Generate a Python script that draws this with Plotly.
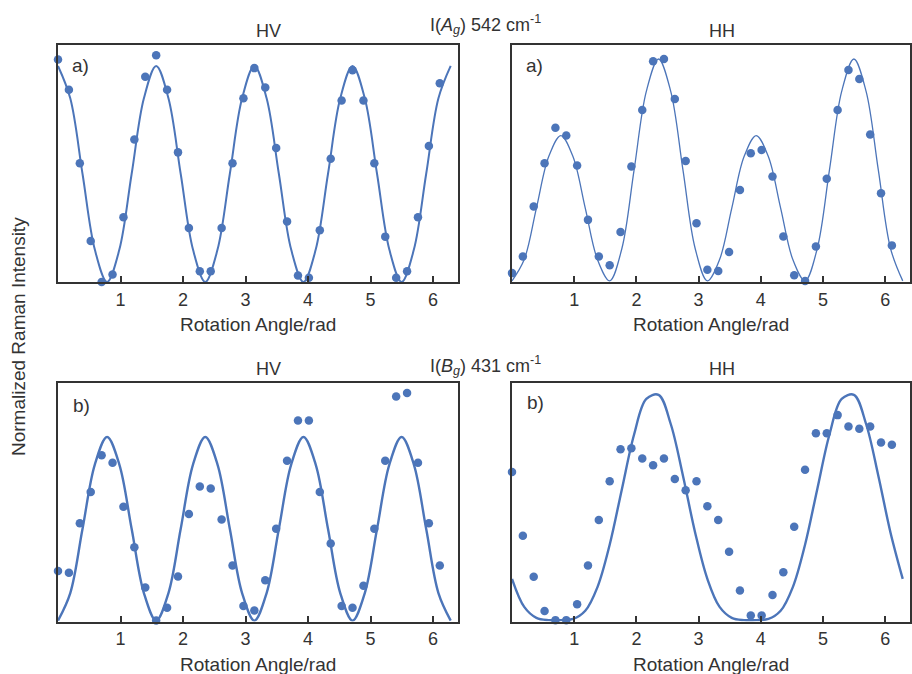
import numpy as np
import plotly.graph_objects as go

# ---------------- data ----------------
ANGLE_DEG = [0, 10, 20, 30, 40, 50, 60, 70, 80, 90, 100, 110, 120, 130, 140, 150, 160, 170,
             180, 190, 200, 210, 220, 230, 240, 250, 260, 270, 280, 290, 300, 310, 320, 330, 340, 350]

# measured points (normalized intensity)
AG_HV = [1.03, 0.89, 0.55, 0.19, 0.00, 0.035, 0.30, 0.66, 0.95, 1.05, 0.89, 0.60,
         0.25, 0.05, 0.05, 0.25, 0.55, 0.85, 0.99, 0.90, 0.62, 0.28, 0.03, 0.02,
         0.24, 0.57, 0.84, 0.98, 0.84, 0.55, 0.21, 0.02, 0.05, 0.30, 0.63, 0.92]
AG_HH = [0.035, 0.11, 0.335, 0.53, 0.69, 0.655, 0.52, 0.275, 0.11, 0.07, 0.22, 0.515,
         0.77, 0.99, 1.00, 0.82, 0.54, 0.26, 0.05, 0.045, 0.13, 0.41, 0.575, 0.59,
         0.47, 0.20, 0.025, 0.00, 0.155, 0.46, 0.77, 0.95, 0.91, 0.66, 0.395, 0.16]
BG_HV = [0.27, 0.26, 0.53, 0.70, 0.90, 0.86, 0.62, 0.40, 0.18, 0.00, 0.07, 0.24,
         0.58, 0.73, 0.72, 0.55, 0.30, 0.08, 0.055, 0.22, 0.50, 0.87, 1.09, 1.09,
         0.70, 0.42, 0.08, 0.07, 0.19, 0.50, 0.87, 1.22, 1.24, 0.86, 0.53, 0.30]
BG_HH = [0.65, 0.37, 0.19, 0.04, 0.00, 0.00, 0.07, 0.24, 0.44, 0.61, 0.75, 0.755,
         0.71, 0.68, 0.71, 0.62, 0.57, 0.61, 0.50, 0.44, 0.30, 0.13, 0.02, 0.02,
         0.11, 0.21, 0.41, 0.66, 0.82, 0.82, 0.90, 0.85, 0.84, 0.85, 0.78, 0.77]

# fitted curves, every 11.25 degrees
CURVE_DEG = [0, 11.25, 22.5, 33.75, 45, 56.25, 67.5, 78.75, 90, 101.25, 112.5, 123.75,
             135, 146.25, 157.5, 168.75, 180, 191.25, 202.5, 213.75, 225, 236.25, 247.5,
             258.75, 270, 281.25, 292.5, 303.75, 315, 326.25, 337.5, 348.75, 360]
FIT_AG_HV = [1.0, 0.85, 0.5, 0.15, 0.0, 0.15, 0.5, 0.85, 1.0, 0.85, 0.5, 0.15, 0.0, 0.15, 0.5, 0.85,
             1.0, 0.85, 0.5, 0.15, 0.0, 0.15, 0.5, 0.85, 1.0, 0.85, 0.5, 0.15, 0.0, 0.15, 0.5, 0.85, 1.0]
FIT_AG_HH = [0.0, 0.096, 0.328, 0.559, 0.655, 0.559, 0.328, 0.096, 0.0, 0.146, 0.5, 0.854, 1.0,
             0.854, 0.5, 0.146, 0.0, 0.096, 0.328, 0.559, 0.655, 0.559, 0.328, 0.096, 0.0,
             0.146, 0.5, 0.854, 1.0, 0.854, 0.5, 0.146, 0.0]
FIT_BG_HV = [0.0, 0.15, 0.5, 0.85, 1.0, 0.85, 0.5, 0.15, 0.0, 0.15, 0.5, 0.85, 1.0, 0.85, 0.5, 0.15,
             0.0, 0.15, 0.5, 0.85, 1.0, 0.85, 0.5, 0.15, 0.0, 0.15, 0.5, 0.85, 1.0, 0.85, 0.5, 0.15, 0.0]
FIT_BG_HH = [0.181, 0.058, 0.01, 0.0, 0.0, 0.005, 0.041, 0.145, 0.331, 0.575, 0.815, 0.971, 0.989,
             0.861, 0.634, 0.384, 0.181, 0.058, 0.01, 0.0, 0.0, 0.005, 0.041, 0.145, 0.331,
             0.575, 0.815, 0.971, 0.989, 0.861, 0.634, 0.384, 0.181]

TICKS = [1, 2, 3, 4, 5, 6]
TICK_LABELS = ["1", "2", "3", "4", "5", "6"]

BLUE = "#4C75B9"
DARK = "#333333"
FONT = "Liberation Sans, Arial, sans-serif"

x_pts = np.deg2rad(ANGLE_DEG)
x_fit = np.deg2rad(CURVE_DEG)

W, H = 912, 674


def px_x(v):
    return v / W


def px_y(v):
    return 1 - v / H


panels = [
    # (points, fit, line width, x domain px, y domain px, y range)
    (AG_HV, FIT_AG_HV, 2.0, (58, 458), (45, 282), [0.0, 1.097]),
    (AG_HH, FIT_AG_HH, 1.3, (512, 910), (45, 282), [-0.005, 1.063]),
    (BG_HV, FIT_BG_HV, 2.4, (58, 458), (383, 621.5), [-0.005, 1.294]),
    (BG_HH, FIT_BG_HH, 2.4, (512, 910), (383, 621.5), [-0.006, 1.041]),
]

fig = go.Figure()
layout = {}
for i, (pts, fit, lw, xd, yd, yr) in enumerate(panels, start=1):
    sx = "" if i == 1 else str(i)
    fig.add_trace(go.Scatter(x=x_fit, y=fit, mode="lines", line=dict(color=BLUE, width=lw, shape="spline"),
                             xaxis="x" + sx, yaxis="y" + sx, showlegend=False, hoverinfo="skip",
                             cliponaxis=False))
    fig.add_trace(go.Scatter(x=x_pts, y=pts, mode="markers", marker=dict(color=BLUE, size=8.5),
                             xaxis="x" + sx, yaxis="y" + sx, showlegend=False, cliponaxis=False))
    layout["xaxis" + sx] = dict(
        domain=[px_x(xd[0]), px_x(xd[1])], range=[0, 6.4], anchor="y" + sx,
        showline=True, mirror=True, linecolor=DARK, linewidth=2,
        ticks="inside", ticklen=6, tickwidth=1.5, tickcolor=DARK,
        tickvals=TICKS, ticktext=TICK_LABELS, showgrid=False, zeroline=False,
        tickfont=dict(family=FONT, size=18, color=DARK), ticklabelstandoff=0,
    )
    layout["yaxis" + sx] = dict(
        domain=[px_y(yd[1]), px_y(yd[0])], range=yr, anchor="x" + sx,
        showline=True, mirror=True, linecolor=DARK, linewidth=2,
        showticklabels=False, ticks="", showgrid=False, zeroline=False,
    )

ann = []


def add_text(text, x, y, size, **kw):
    ann.append(dict(text=text, x=px_x(x), y=px_y(y), xref="paper", yref="paper",
                    showarrow=False, font=dict(family=FONT, size=size, color=DARK),
                    xanchor="center", yanchor="middle", **kw))


add_text("HV", 268, 31, 18)
add_text("HH", 722, 31, 18)
add_text("I(<i>A<sub>g</sub></i>) 542 cm<sup>-1</sup>", 485, 24, 18)
add_text("HV", 268, 369, 18)
add_text("HH", 722, 369, 18)
add_text("I(<i>B<sub>g</sub></i>) 431 cm<sup>-1</sup>", 485, 365, 18)
add_text("a)", 80, 65, 19)
add_text("a)", 534, 65, 19)
add_text("b)", 81, 405, 19)
add_text("b)", 535, 402, 19)
add_text("Rotation Angle/rad", 258, 324.5, 19)
add_text("Rotation Angle/rad", 711, 324.5, 19)
add_text("Rotation Angle/rad", 258, 664, 19)
add_text("Rotation Angle/rad", 711, 664, 19)
add_text("Normalized Raman Intensity", 18, 337, 19, textangle=-90)

fig.update_layout(
    width=W, height=H, margin=dict(l=0, r=0, t=0, b=0),
    paper_bgcolor="white", plot_bgcolor="white",
    font=dict(family=FONT, color=DARK), annotations=ann, **layout,
)

fig.write_html("out.html")
